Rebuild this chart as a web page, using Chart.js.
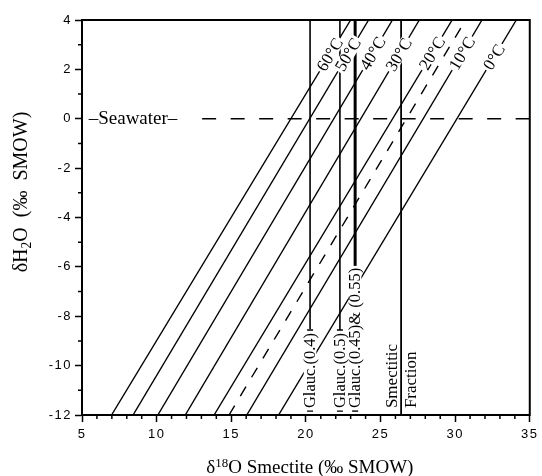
<!DOCTYPE html>
<html>
<head>
<meta charset="utf-8">
<script src="https://cdn.jsdelivr.net/npm/chart.js@4.4.0/dist/chart.umd.min.js"></script>
<style>
  html, body { margin: 0; padding: 0; background: #fff; }
  #wrap { width: 542px; height: 476px; }
</style>
</head>
<body>
<div id="wrap"><canvas id="chart" width="542" height="476"></canvas></div>
<script>
// isotherms: d18O smectite where each line meets the bottom (-12) and top (+4) of the plot
const isoTemps = ['60°C', '50°C', '40°C', '30°C', '20°C', '10°C', '0°C'];
const isoBottomX = [6.98, 8.42, 10.08, 11.92, 13.85, 16.04, 18.17];
const isoTopX = [23.0, 24.2, 25.8, 27.6, 29.8, 31.8, 34.1];
const isoLabelY = [2.6, 2.6, 2.65, 2.6, 2.65, 2.65, 2.5];
const dashedBottomX = 14.85;
const dashedTopX = 30.7;
const yLow = -12, yHigh = 4;

const seawaterY = 0;
const seawaterStartX = 13.05;
const seawaterLabelX = 5.45;

// glauconite / smectite fraction verticals
const glaucNames = ['Glauc.(0.4)', 'Glauc.(0.5)', 'Glauc.(0.45)& (0.55)'];
const glaucX = [20.28, 22.28, 23.3];
const glaucEndY = [-8.52, -8.56, -6.25];
const smectiteX = 26.38;
const smectiteNames = ['Smectitic', 'Fraction'];

const xTicks = [5, 10, 15, 20, 25, 30, 35];
const yTicks = [-12, -10, -8, -6, -4, -2, 0, 2, 4];

const SERIF = '"Liberation Serif", "Times New Roman", serif';

const datasets = [];
isoTemps.forEach((t, i) => {
  datasets.push({
    label: t,
    data: [{ x: isoBottomX[i], y: yLow }, { x: isoTopX[i], y: yHigh }],
    borderWidth: 1.4
  });
});
datasets.push({
  label: 'dashed',
  data: [{ x: dashedBottomX, y: yLow }, { x: dashedTopX, y: yHigh }],
  borderWidth: 1.4,
  borderDash: [11, 11]
});
datasets.push({
  label: 'Seawater',
  data: [{ x: seawaterStartX, y: seawaterY }, { x: 35, y: seawaterY }],
  borderWidth: 1.4,
  borderDash: [14, 14.5]
});
glaucNames.forEach((g, i) => {
  datasets.push({
    label: g,
    data: [{ x: glaucX[i], y: yHigh }, { x: glaucX[i], y: glaucEndY[i] }],
    borderWidth: i === 2 ? 3 : 1.6
  });
});
datasets.push({
  label: 'Smectitic Fraction',
  data: [{ x: smectiteX, y: yHigh }, { x: smectiteX, y: yLow }],
  borderWidth: 1.8
});
datasets.forEach(d => {
  d.showLine = true;
  d.pointRadius = 0;
  d.borderColor = '#000';
  d.fill = false;
});

function lbl(ctx, text, px, py, angle, size, align) {
  ctx.save();
  ctx.translate(px, py);
  ctx.rotate(angle);
  ctx.font = size + 'px ' + SERIF;
  ctx.textAlign = align;
  ctx.textBaseline = 'middle';
  const w = ctx.measureText(text).width;
  const x0 = align === 'center' ? -w / 2 : 0;
  ctx.fillStyle = '#fff';
  ctx.fillRect(x0 - 2, -size * 0.38, w + 4, size * 0.76);
  ctx.fillStyle = '#000';
  ctx.fillText(text, 0, 1);
  ctx.restore();
  return w;
}

// text with sub/superscripts, centred on (cx, cy) along the rotated baseline
function rich(ctx, parts, cx, cy, angle, size) {
  ctx.save();
  ctx.translate(cx, cy);
  ctx.rotate(angle);
  ctx.textBaseline = 'alphabetic';
  ctx.textAlign = 'left';
  let total = 0;
  parts.forEach(p => {
    ctx.font = (size * p.s) + 'px ' + SERIF;
    total += ctx.measureText(p.t).width;
  });
  let x = -total / 2;
  ctx.fillStyle = '#000';
  parts.forEach(p => {
    ctx.font = (size * p.s) + 'px ' + SERIF;
    ctx.fillText(p.t, x, p.dy * size);
    x += ctx.measureText(p.t).width;
  });
  ctx.restore();
}

const decor = {
  id: 'decor',
  beforeDraw(chart) {
    chart.ctx.letterSpacing = '1.5px';
  },
  beforeDatasetsDraw(chart) {
    chart.ctx.letterSpacing = '0px';
  },
  afterDatasetsDraw(chart) {
    const ctx = chart.ctx;
    const xs = chart.scales.x, ys = chart.scales.y;
    const a = chart.chartArea;
    ctx.save();
    ctx.letterSpacing = '0px';

    // top and right frame
    ctx.strokeStyle = '#000';
    ctx.lineWidth = 2;
    ctx.beginPath();
    ctx.moveTo(a.left - 1, a.top);
    ctx.lineTo(a.right, a.top);
    ctx.lineTo(a.right, a.bottom + 1);
    ctx.stroke();

    // minor ticks
    ctx.lineWidth = 1.5;
    ctx.beginPath();
    for (let v = 5; v <= 35; v++) {
      if (v % 5 === 0) continue;
      const px = xs.getPixelForValue(v);
      ctx.moveTo(px, a.bottom);
      ctx.lineTo(px, a.bottom + 4);
    }
    for (let v = -12; v <= 4; v++) {
      if (v % 2 === 0) continue;
      const py = ys.getPixelForValue(v);
      ctx.moveTo(a.left, py);
      ctx.lineTo(a.left - 4, py);
    }
    ctx.stroke();

    // isotherm labels along the lines
    isoTemps.forEach((t, i) => {
      const p1x = xs.getPixelForValue(isoBottomX[i]), p1y = ys.getPixelForValue(yLow);
      const p2x = xs.getPixelForValue(isoTopX[i]), p2y = ys.getPixelForValue(yHigh);
      const f = (isoLabelY[i] - yLow) / (yHigh - yLow);
      const vx = isoBottomX[i] + f * (isoTopX[i] - isoBottomX[i]);
      const ang = Math.atan2(p2y - p1y, p2x - p1x);
      lbl(ctx, t, xs.getPixelForValue(vx), ys.getPixelForValue(isoLabelY[i]), ang, 17, 'center');
    });

    // seawater
    ctx.font = '19px ' + SERIF;
    ctx.textAlign = 'left';
    ctx.textBaseline = 'alphabetic';
    ctx.fillStyle = '#000';
    ctx.fillText('\u2013Seawater\u2013', xs.getPixelForValue(seawaterLabelX), ys.getPixelForValue(seawaterY) + 5);

    // glauconite labels, reading upward from the bottom
    const startY = ys.getPixelForValue(-11.72);
    glaucNames.forEach((g, i) => {
      const px = xs.getPixelForValue(glaucX[i]);
      const w = lbl(ctx, g, px, startY, -Math.PI / 2, 16.5, 'left');
      ctx.lineWidth = 1.4;
      ctx.beginPath();
      ctx.moveTo(px - 3, startY + 3); ctx.lineTo(px + 3, startY + 3);
      if (i < 2) { ctx.moveTo(px - 3, startY - w - 3); ctx.lineTo(px + 3, startY - w - 3); }
      ctx.stroke();
    });
    const sp = xs.getPixelForValue(smectiteX);
    lbl(ctx, smectiteNames[0], sp - 10, startY, -Math.PI / 2, 17, 'left');
    lbl(ctx, smectiteNames[1], sp + 9, startY, -Math.PI / 2, 17, 'left');

    // axis titles
    rich(ctx, [
      { t: '\u03B4', s: 1, dy: 0 },
      { t: '18', s: 0.68, dy: -0.33 },
      { t: 'O Smectite (\u2030 SMOW)', s: 1, dy: 0 }
    ], (a.left + a.right) / 2 + 4, 473, 0, 19);
    rich(ctx, [
      { t: '\u03B4H', s: 1, dy: 0 },
      { t: '2', s: 0.68, dy: 0.2 },
      { t: 'O  (\u2030  SMOW)', s: 1, dy: 0 }
    ], 27, 192, -Math.PI / 2, 20);

    ctx.restore();
  }
};

new Chart(document.getElementById('chart'), {
  type: 'scatter',
  data: { datasets },
  options: {
    responsive: false,
    animation: false,
    layout: { padding: { top: 20, right: 9, left: 0, bottom: 0 } },
    plugins: { legend: { display: false }, tooltip: { enabled: false } },
    scales: {
      x: {
        type: 'linear',
        min: 5, max: 35,
        afterFit: s => { s.height = 61; },
        afterBuildTicks: s => { s.ticks = xTicks.map(v => ({ value: v })); },
        border: { display: true, color: '#000', width: 2 },
        grid: { drawOnChartArea: false, tickLength: 7, tickWidth: 1.5, tickColor: '#000' },
        ticks: { color: '#000', padding: 5, maxRotation: 0, font: { family: '"Liberation Sans", Arial, sans-serif', size: 13 } }
      },
      y: {
        type: 'linear',
        min: yLow, max: yHigh,
        afterFit: s => { s.width = 82; },
        afterBuildTicks: s => { s.ticks = yTicks.map(v => ({ value: v })); },
        border: { display: true, color: '#000', width: 2 },
        grid: { drawOnChartArea: false, tickLength: 7, tickWidth: 1.5, tickColor: '#000' },
        ticks: { color: '#000', padding: 3, font: { family: '"Liberation Sans", Arial, sans-serif', size: 13 } }
      }
    }
  },
  plugins: [decor]
});
</script>
</body>
</html>
